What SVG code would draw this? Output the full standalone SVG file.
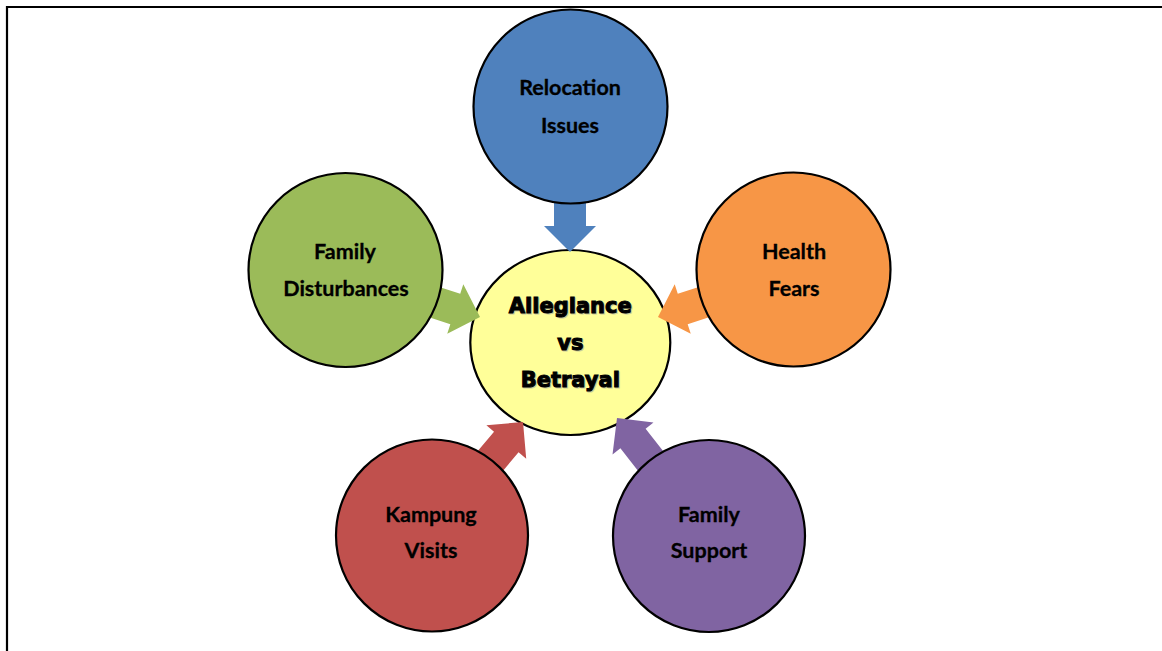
<svg xmlns="http://www.w3.org/2000/svg" width="1162" height="651" viewBox="0 0 1162 651">
<style>
.c{stroke:#000;stroke-width:2.2}
.t{font-family:Lato,"Open Sans",sans-serif;font-weight:bold;font-size:21.5px;fill:#000;stroke:#000;stroke-width:0.3;text-anchor:middle}
.m{font-family:"DejaVu Sans",sans-serif;font-weight:bold;font-size:21px;fill:#000;stroke:#000;stroke-width:1;text-anchor:middle}
.s{font-family:"DejaVu Sans",sans-serif;font-weight:bold;font-size:21px;fill:#999;stroke:#999;stroke-width:1;text-anchor:middle;opacity:0.5}
</style>
<defs>
<path id="arr" d="M0,0 L-26,-26 L-26,-16 L-70,-16 L-70,16 L-26,16 L-26,26 Z"/>
</defs>
<rect width="1162" height="651" fill="#fff"/>
<path d="M7,651 V7 H1162" fill="none" stroke="#000" stroke-width="2.2"/>
<g id="center">
<ellipse class="c" cx="570.3" cy="342.5" rx="100" ry="92.5" fill="#FFFF99"/>
</g>
<g id="connectors">
<use href="#arr" fill="#4F81BD" transform="translate(570,252) rotate(90)"/>
<use href="#arr" fill="#9BBB59" transform="translate(480,317) rotate(18)"/>
<use href="#arr" fill="#F79646" transform="translate(658,317) rotate(162)"/>
<use href="#arr" fill="#C0504D" transform="translate(523,422) rotate(-50)"/>
<use href="#arr" fill="#8064A2" transform="translate(617,418) rotate(-128)"/>
</g>
<g id="center-label">
<text class="s" x="571.3" y="314">Allegiance</text>
<text class="s" x="571.3" y="351">vs</text>
<text class="s" x="571.3" y="388">Betrayal</text>
<text class="m" x="570.3" y="313">Allegiance</text>
<text class="m" x="570.3" y="350">vs</text>
<text class="m" x="570.3" y="387">Betrayal</text>
</g>
<g id="relocation">
<circle class="c" cx="570.5" cy="106.5" r="97" fill="#4F81BD"/>
<text class="t" x="570" y="95">Relocation</text>
<text class="t" x="570" y="133">Issues</text>
</g>
<g id="family-disturbances">
<circle class="c" cx="345.5" cy="270" r="97" fill="#9BBB59"/>
<text class="t" x="345" y="259">Family</text>
<text class="t" x="346" y="296">Disturbances</text>
</g>
<g id="health-fears">
<circle class="c" cx="793.5" cy="269.5" r="97" fill="#F79646"/>
<text class="t" x="794" y="259">Health</text>
<text class="t" x="794" y="296">Fears</text>
</g>
<g id="kampung-visits">
<circle class="c" cx="432" cy="535.5" r="96" fill="#C0504D"/>
<text class="t" x="431" y="522">Kampung</text>
<text class="t" x="431" y="558">Visits</text>
</g>
<g id="family-support">
<circle class="c" cx="709" cy="536" r="96" fill="#8064A2"/>
<text class="t" x="709" y="522">Family</text>
<text class="t" x="709" y="558">Support</text>
</g>
</svg>
